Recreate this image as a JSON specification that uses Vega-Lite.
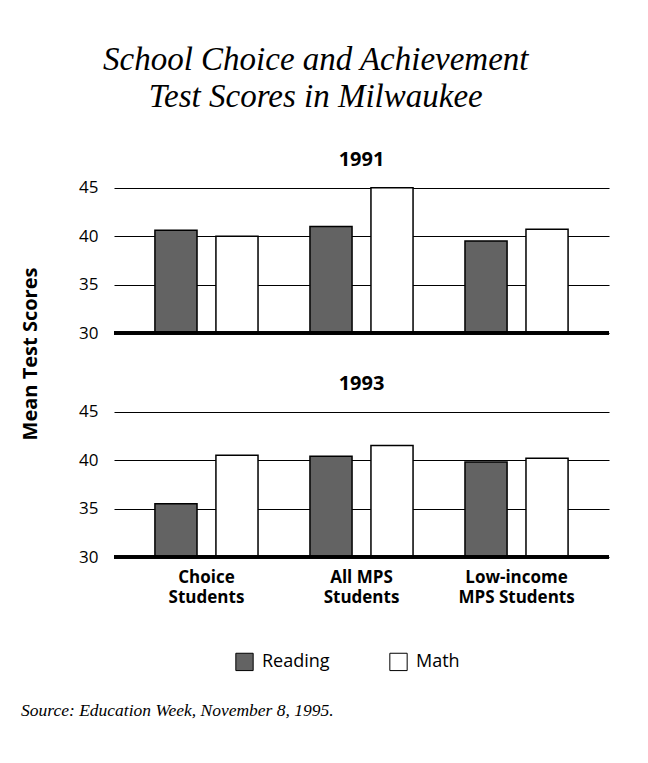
{
  "$schema": "https://vega.github.io/schema/vega-lite/v6.json",
  "background": "white",
  "padding": {"left": 20, "top": 44, "right": 30, "bottom": 10},
  "title": {
    "text": "Source: Education Week, November 8, 1995.",
    "orient": "bottom",
    "anchor": "start",
    "frame": "bounds",
    "font": "Liberation Serif",
    "fontStyle": "italic",
    "fontWeight": "normal",
    "fontSize": 17.5,
    "color": "black",
    "offset": 29
  },
  "config": {
    "view": {"stroke": null},
    "legend": {"layout": {"bottom": {"anchor": "middle", "direction": "horizontal", "center": true}}}
  },
  "resolve": {"legend": {"fill": "independent"}},
  "vconcat": [
    {
      "title": {
        "text": ["School Choice and Achievement", "Test Scores in Milwaukee"],
        "font": "Liberation Serif",
        "fontStyle": "italic",
        "fontWeight": "normal",
        "fontSize": 33,
        "lineHeight": 37,
        "color": "black",
        "anchor": "middle",
        "frame": "bounds",
        "offset": 36
      },
      "data": {
        "values": [
          {"year": "1991", "group": "Choice Students", "subject": "Reading", "score": 40.6},
          {"year": "1991", "group": "Choice Students", "subject": "Math", "score": 40.0},
          {"year": "1991", "group": "All MPS Students", "subject": "Reading", "score": 41.0},
          {"year": "1991", "group": "All MPS Students", "subject": "Math", "score": 45.0},
          {"year": "1991", "group": "Low-income MPS Students", "subject": "Reading", "score": 39.5},
          {"year": "1991", "group": "Low-income MPS Students", "subject": "Math", "score": 40.7},
          {"year": "1993", "group": "Choice Students", "subject": "Reading", "score": 35.5},
          {"year": "1993", "group": "Choice Students", "subject": "Math", "score": 40.5},
          {"year": "1993", "group": "All MPS Students", "subject": "Reading", "score": 40.4},
          {"year": "1993", "group": "All MPS Students", "subject": "Math", "score": 41.5},
          {"year": "1993", "group": "Low-income MPS Students", "subject": "Reading", "score": 39.8},
          {"year": "1993", "group": "Low-income MPS Students", "subject": "Math", "score": 40.2}
        ]
      },
      "facet": {
        "row": {
          "field": "year",
          "type": "ordinal",
          "title": "Mean Test Scores",
          "header": {
            "labelOrient": "top",
            "labelAngle": 0,
            "labelAnchor": "middle",
            "labelFont": "Open Sans",
            "labelFontSize": 20,
            "labelFontWeight": "bold",
            "labelColor": "black",
            "labelPadding": -12,
            "titleFont": "Open Sans",
            "titleFontSize": 20,
            "titleFontWeight": "bold",
            "titleColor": "black",
            "titlePadding": 27
          }
        }
      },
      "spacing": {"row": 39},
      "spec": {
        "width": 495,
        "height": 155,
        "layer": [
          {
            "mark": {"type": "bar", "stroke": "black", "strokeWidth": 1.5},
            "encoding": {
              "x": {
                "field": "group",
                "type": "nominal",
                "sort": ["Choice Students", "All MPS Students", "Low-income MPS Students"],
                "scale": {"paddingInner": 0.335, "paddingOuter": 0.264},
                "title": null,
                "axis": {
                  "domain": false,
                  "ticks": false,
                  "labelAngle": 0,
                  "labelFont": "Open Sans",
                  "labelFontSize": 17,
                  "labelFontWeight": "bold",
                  "labelColor": "black",
                  "labelLineHeight": 20,
                  "labelPadding": 10,
                  "labelExpr": "datum.value == 'Low-income MPS Students' ? ['Low-income', 'MPS Students'] : [substring(datum.value, 0, lastindexof(datum.value, ' ')), 'Students']"
                }
              },
              "xOffset": {
                "field": "subject",
                "sort": ["Reading", "Math"],
                "scale": {"paddingInner": 0.31}
              },
              "y": {
                "field": "score",
                "type": "quantitative",
                "scale": {"domain": [30, 45], "zero": false},
                "title": null,
                "axis": {
                  "values": [30, 35, 40, 45],
                  "grid": true,
                  "gridColor": "black",
                  "gridWidth": 1.2,
                  "gridOpacity": 1,
                  "domain": false,
                  "ticks": false,
                  "labelFont": "Open Sans",
                  "labelFontSize": 17,
                  "labelColor": "black",
                  "labelPadding": 14
                }
              },
              "y2": {"datum": 30},
              "fill": {
                "field": "subject",
                "type": "nominal",
                "scale": {"domain": ["Reading", "Math"], "range": ["#636363", "white"]},
                "legend": {
                  "orient": "bottom",
                  "direction": "horizontal",
                  "title": " ",
                  "titleOrient": "left",
                  "titlePadding": 64,
                  "symbolType": "square",
                  "symbolSize": 300,
                  "symbolStrokeColor": "black",
                  "symbolStrokeWidth": 1,
                  "symbolOpacity": 1,
                  "labelFont": "Open Sans",
                  "labelFontSize": 18,
                  "labelColor": "black",
                  "labelOffset": 8,
                  "columnPadding": 57,
                  "offset": 47
                }
              }
            }
          },
          {
            "mark": {"type": "rule", "strokeWidth": 3, "color": "black"},
            "encoding": {"y": {"datum": 30}}
          }
        ]
      }
    }
  ]
}
